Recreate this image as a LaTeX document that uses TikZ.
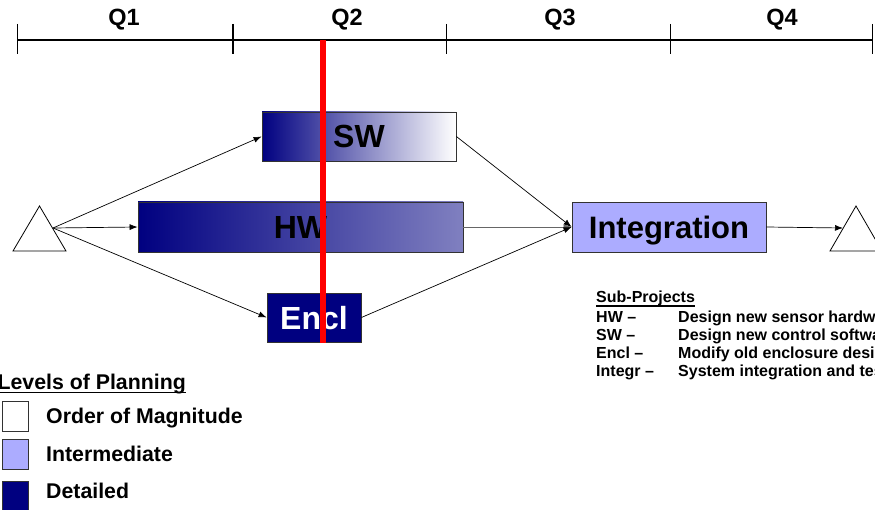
\documentclass[tikz,border=0pt]{standalone}
\usepackage{fontspec}
\setmainfont{Liberation Sans}
\usetikzlibrary{arrows.meta}
\definecolor{navy}{RGB}{0,0,128}
\definecolor{midblue}{RGB}{128,128,192}
\definecolor{lightblue}{RGB}{172,172,255}
\definecolor{edge}{RGB}{50,50,50}
\tikzset{
  task/.style={draw=edge, line width=0.8pt, inner sep=0pt, text depth=0pt, font=\bfseries\fontsize{32}{36}\selectfont},
  conn/.style={line width=0.7pt, -{Latex[length=8pt,width=6pt]}},
  qlab/.style={font=\bfseries\fontsize{23.5}{26}\selectfont, inner sep=0pt},
  sub/.style={anchor=base west, inner sep=0pt, font=\bfseries\fontsize{16}{18}\selectfont},
  leg/.style={anchor=base west, inner sep=0pt, font=\bfseries\fontsize{21.3}{25}\selectfont},
  legbox/.style={draw=edge, line width=0.8pt, minimum width=26pt, minimum height=30pt, inner sep=0pt},
  milestone/.style={draw=black, line width=0.8pt, fill=white}
}
\begin{document}
\begin{tikzpicture}[x=1pt,y=-1pt]
\useasboundingbox (0,0) rectangle (875,510);
\clip (0,0) rectangle (875,510);
\fill[white] (0,0) rectangle (875,510);
% timeline
\coordinate (t0) at (17,40);
\coordinate (t4) at (872,40);
\draw[line width=2pt] (t0) -- (t4);
\draw[line width=0.8pt] (17,24) -- (17,54);
\draw[line width=1.8pt] (233,24) -- (233,54);
\draw[line width=0.8pt] (446,24) -- (446,54);
\draw[line width=0.8pt] (670,24) -- (670,54);
\draw[line width=0.8pt] (872,24) -- (872,54);
\node[qlab] (q1) at (124,20) {Q1};
\node[qlab] (q2) at (347,20) {Q2};
\node[qlab] (q3) at (560,20) {Q3};
\node[qlab] (q4) at (782,20) {Q4};
% milestones
\draw[milestone] (13,251) -- (39.5,206) -- (66,251) -- cycle;
\coordinate (start) at (53,228);
\draw[milestone] (830,251) -- (856,206) -- (882,251) -- cycle;
\coordinate (finish) at (843,228);
% tasks
\node[task, minimum width=194pt, minimum height=49pt, left color=navy, right color=white] (sw) at (359,136.5) {SW};
\node[task, minimum width=325pt, minimum height=50pt, left color=navy, right color=midblue] (hw) at (300.5,227) {HW};
\node[task, minimum width=94pt, minimum height=49pt, fill=navy, text=white] (encl) at (314,317.5) {Encl};
\node[task, minimum width=194pt, minimum height=50pt, fill=lightblue, font=\bfseries\fontsize{31}{36}\selectfont] (integ) at (669,227) {Integration};
% connectors
\draw[conn] (start) -- (sw.west);
\draw[conn] (start) -- (hw.west);
\draw[conn] (start) -- (encl.west);
\draw[conn] (sw.east) -- (integ.west);
\draw[conn, draw=gray!80!black] (hw.east) -- (integ.west);
\draw[conn] (encl.east) -- (integ.west);
\draw[conn] (integ.east) -- (finish);
% status line
\coordinate (r0) at (323,40);
\coordinate (r1) at (323,343);
\draw[red, line width=6pt] (r0) -- (r1);
% sub-projects
\node[sub] (sph) at (596,303) {Sub-Projects};
\draw[line width=1.2pt] ([yshift=-3pt]sph.base west) -- ([yshift=-3pt]sph.base east);
\node[sub] (k1) at (596,323) {HW –};
\node[sub] (v1) at (678,323) {Design new sensor hardware};
\node[sub] (k2) at (596,341) {SW –};
\node[sub] (v2) at (678,341) {Design new control software};
\node[sub] (k3) at (596,359) {Encl –};
\node[sub] (v3) at (678,359) {Modify old enclosure design};
\node[sub] (k4) at (596,377) {Integr –};
\node[sub] (v4) at (678,377) {System integration and test};
% legend
\node[leg, anchor=base east] (lh) at (186,389) {Levels of Planning};
\draw[line width=1.6pt] ([yshift=-3.5pt]lh.base west) -- ([yshift=-3.5pt]lh.base east);
\node[legbox, fill=white] (b1) at (15,416) {};
\node[legbox, fill=lightblue] (b2) at (15,454) {};
\node[legbox, fill=navy] (b3) at (15,496) {};
\node[leg] (l1) at (46,423) {Order of Magnitude};
\node[leg] (l2) at (46,461) {Intermediate};
\node[leg] (l3) at (46,498) {Detailed};
\end{tikzpicture}
\end{document}
